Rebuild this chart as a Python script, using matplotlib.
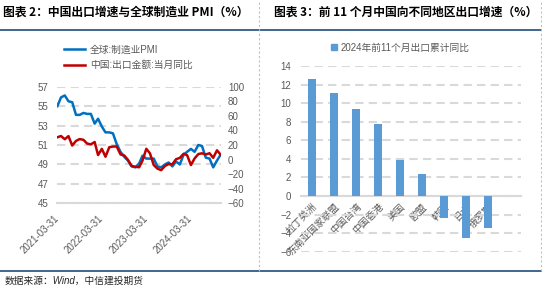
import matplotlib
matplotlib.use("Agg")
import matplotlib.pyplot as plt
import matplotlib.dates as mdates
from matplotlib.lines import Line2D
from matplotlib.patches import Patch
import pandas as pd

plt.rcParams['font.family'] = ['Liberation Sans', 'Noto Sans CJK SC', 'DejaVu Sans']
plt.rcParams['axes.unicode_minus'] = True

# ---------------- data ----------------
dates = pd.date_range("2021-03-31", "2024-11-30", freq="ME")
pmi_global = [55.0, 55.9, 56.1, 55.5, 55.4, 54.1, 54.1, 54.3, 54.2, 54.2,
              53.2, 53.7, 52.9, 52.3, 52.3, 52.2, 51.1, 50.3, 49.8, 49.4, 48.8, 48.7,
              49.1, 49.9, 49.6, 49.6, 49.6, 48.8, 48.7, 49.0, 49.2, 48.8, 49.3, 49.0,
              50.0, 50.3, 50.6, 50.3, 51.0, 50.9, 49.7, 49.6, 48.7, 49.4, 50.0]
cn_export_yoy = [30.6, 32.3, 27.9, 32.2, 19.3, 25.6, 28.1, 27.1, 22.0, 20.9,
                 24.1, 6.2, 14.7, 3.9, 16.9, 17.9, 18.0, 7.1, 5.7, -0.3, -8.7, -9.9,
                 -10.5, -1.3, 14.8, 8.5, -7.5, -12.4, -14.5, -8.8, -6.2, -6.4, 0.5, 2.3,
                 8.0, 6.0, -7.5, 1.5, 7.6, 8.6, 7.0, 8.7, 2.4, 12.7, 6.7]
date_ticks = ["2021-03-31", "2022-03-31", "2023-03-31", "2024-03-31"]
left_yticks = [45, 47, 49, 51, 53, 55, 57]
right_yticks = [-60, -40, -20, 0, 20, 40, 60, 80, 100]
label_pmi = "全球:制造业PMI"
label_exp = "中国:出口金额:当月同比"

regions = ["拉丁美洲", "东南亚国家联盟", "中国台湾", "中国香港", "美国", "欧盟", "韩国", "日本", "俄罗斯"]
region_growth = [12.6, 11.1, 9.4, 7.8, 3.9, 2.4, -2.4, -4.5, -3.4]
bar_label = "2024年前11个月出口累计同比"
bar_yticks = [-6, -4, -2, 0, 2, 4, 6, 8, 10, 12, 14]

title_left = "图表 2：中国出口增速与全球制造业 PMI（%）"
title_right = "图表 3：前 11 个月中国向不同地区出口增速（%）"
source = "数据来源：Wind，中信建投期货"

# ---------------- style ----------------
W, H = 542, 291
fig = plt.figure(figsize=(W / 100, H / 100), dpi=100)
GRAY = "#595959"
GRID = "#D9D9D9"
DASH = (0, (4, 2.5))
BLUE = "#0070C0"
RED = "#C00000"

def fx(px):
    return px / W

def fy(px):
    return 1 - px / H

# ---------------- left chart ----------------
ax1 = fig.add_axes([fx(57), fy(203.3), fx(221) - fx(57), (203.3 - 86.7) / H])
ax2 = ax1.twinx()
ax1.plot(dates, pmi_global, color=BLUE, lw=1.8, label=label_pmi, solid_joinstyle='round')
ax2.plot(dates, cn_export_yoy, color=RED, lw=1.8, label=label_exp, solid_joinstyle='round')
ax1.set_ylim(45, 57)
ax1.set_yticks(left_yticks)
ax2.set_ylim(-60, 100)
ax2.set_yticks(right_yticks)
ax1.set_xlim(dates[0] - pd.Timedelta(days=3), dates[-1] + pd.Timedelta(days=3))
ax1.set_xticks(pd.to_datetime(date_ticks))
ax1.xaxis.set_major_formatter(mdates.DateFormatter("%Y-%m-%d"))
ax1.grid(axis='y', color=GRID, lw=1.5, ls=DASH)
ax1.set_axisbelow(True)
for a in (ax1, ax2):
    for s in a.spines.values():
        s.set_visible(False)
ax1.spines['bottom'].set_visible(True)
ax1.spines['bottom'].set_color(GRID)
ax1.spines['bottom'].set_linewidth(1.5)
ax1.tick_params(axis='y', length=0, labelsize=7, labelcolor=GRAY, pad=6)
ax2.tick_params(axis='y', length=0, labelsize=7, labelcolor=GRAY, pad=5)
ax1.tick_params(axis='x', length=0, labelsize=7, labelcolor=GRAY, pad=10)
for lab in ax1.get_xticklabels():
    lab.set_rotation(45)
    lab.set_ha('right')
    lab.set_va('center')
    lab.set_rotation_mode('anchor')

h1, l1 = ax1.get_legend_handles_labels()
h2, l2 = ax2.get_legend_handles_labels()
leg = ax2.legend(h1 + h2, l1 + l2, loc='upper left', bbox_to_anchor=(0.045, 1.36),
                 frameon=False, fontsize=7, handlelength=2.1, handletextpad=0.5,
                 labelspacing=0.55, borderpad=0, borderaxespad=0)
for t in leg.get_texts():
    t.set_color(GRAY)

# ---------------- right chart ----------------
ax3 = fig.add_axes([fx(301), fy(251.7), fx(521) - fx(301), (251.7 - 66) / H])
x = list(range(len(regions)))
ax3.bar(x, region_growth, width=0.4, color="#5B9BD5", label=bar_label, zorder=2)
ax3.set_xlim(-0.5, 9.5)
ax3.set_ylim(-6, 14)
ax3.set_yticks(bar_yticks)
ax3.set_xticks(x)
ax3.set_xticklabels(regions)
ax3.grid(axis='y', color=GRID, lw=1.5, ls=DASH)
ax3.set_axisbelow(True)
for s in ax3.spines.values():
    s.set_visible(False)
ax3.spines['bottom'].set_visible(True)
ax3.spines['bottom'].set_position(('data', 0))
ax3.spines['bottom'].set_color(GRID)
ax3.spines['bottom'].set_linewidth(1.5)
ax3.spines['bottom'].set_zorder(1)
ax3.tick_params(axis='y', length=0, labelsize=7, labelcolor=GRAY, pad=7)
ax3.tick_params(axis='x', length=0, labelsize=7, labelcolor=GRAY, pad=4)
for lab in ax3.get_xticklabels():
    lab.set_rotation(45)
    lab.set_ha('right')
    lab.set_va('top')
    lab.set_rotation_mode('anchor')
    lab.set_zorder(3)
leg3 = ax3.legend(handles=[Patch(color="#5B9BD5", label=bar_label)], loc='center',
                  bbox_to_anchor=(0.45, 1.10), frameon=False, fontsize=7,
                  handlelength=0.7, handleheight=0.7, handletextpad=0.3,
                  borderpad=0, borderaxespad=0)
for t in leg3.get_texts():
    t.set_color(GRAY)

# ---------------- frame / titles ----------------
fig.text(fx(3), fy(12.5), title_left, fontsize=8.5, fontweight='bold', va='center',
         family=['Noto Sans CJK SC', 'DejaVu Sans'], color='#000000')
fig.text(fx(274), fy(12.5), title_right, fontsize=8.5, fontweight='bold', va='center',
         family=['Noto Sans CJK SC', 'DejaVu Sans'], color='#000000')
fig.text(fx(5), fy(281), source, fontsize=7, va='center', style='italic', color='#262626')

navy = "#1F4E79"
fig.add_artist(Line2D([0, 1], [fy(29.5), fy(29.5)], transform=fig.transFigure, color=navy, lw=1.2))
fig.add_artist(Line2D([0, 1], [fy(271), fy(271)], transform=fig.transFigure, color=navy, lw=1.2))
for xp in (259, 541):
    fig.add_artist(Line2D([fx(xp), fx(xp)], [fy(271), 1], transform=fig.transFigure,
                          color="#BFBFBF", lw=0.8, ls=(0, (2, 2))))

fig.savefig("out.png", dpi=100)
